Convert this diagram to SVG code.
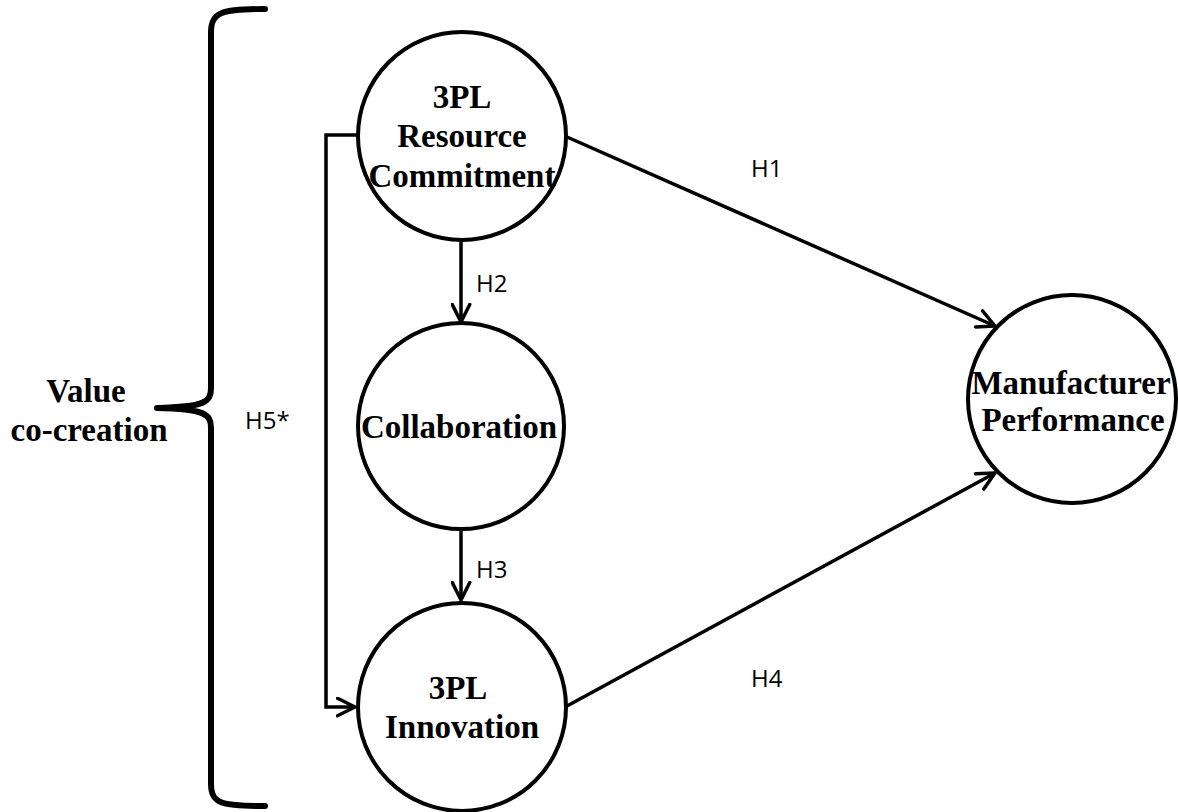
<svg xmlns="http://www.w3.org/2000/svg" width="1178" height="812" viewBox="0 0 1178 812">
  <style>
    .node { fill: #ffffff; stroke: #000000; stroke-width: 4; }
    .label { font-family: "Liberation Serif", "Times New Roman", serif; font-weight: bold; font-size: 33px; fill: #000000; text-anchor: middle; }
    .hyp { font-family: "Open Sans", "Liberation Sans", Arial, sans-serif; font-size: 24px; fill: #000000; }
    .edge { fill: none; stroke: #000000; stroke-width: 3.5; }
    .brace { fill: none; stroke: #000000; stroke-width: 6; stroke-linecap: round; }
  </style>
  <defs>
    <marker id="arrow" viewBox="0 0 12 12" refX="11" refY="6" markerWidth="6" markerHeight="6" orient="auto" markerUnits="strokeWidth">
      <path d="M1,1 L11,6 L1,11" fill="none" stroke="#000000" stroke-width="2" stroke-linecap="round" stroke-linejoin="round"/>
    </marker>
  </defs>
  <rect width="1178" height="812" fill="#ffffff"/>

  <!-- curly brace grouping the value co-creation constructs -->
  <g id="value-cocreation">
    <path class="brace" d="M265,9 C222,9 211,12 211,32 L211,388 C211,402 205,407 157,408 M157,408 C205,409 211,414 211,428 L211,784 C211,804 222,806 265,806"/>
    <text class="label" x="86" y="402">Value</text>
    <text class="label" x="89" y="441">co-creation</text>
  </g>

  <!-- connectors -->
  <g id="connectors">
    <path class="edge" d="M357,135 L326,135 L326,707 L355,707" marker-end="url(#arrow)"/>
    <path class="edge" d="M461,241 L461,322" marker-end="url(#arrow)"/>
    <path class="edge" d="M461,529 L461,600" marker-end="url(#arrow)"/>
    <path class="edge" d="M567,137 L995,326" marker-end="url(#arrow)"/>
    <path class="edge" d="M567,706 L995,473" marker-end="url(#arrow)"/>
    <text class="hyp" x="751" y="177">H1</text>
    <text class="hyp" x="476" y="292">H2</text>
    <text class="hyp" x="476" y="578">H3</text>
    <text class="hyp" x="751" y="687">H4</text>
    <text class="hyp" x="245" y="429">H5*</text>
  </g>

  <g id="resource-commitment">
    <circle class="node" cx="462" cy="136" r="104"/>
    <text class="label" x="462" y="108">3PL</text>
    <text class="label" x="462" y="147">Resource</text>
    <text class="label" x="462" y="187">Commitment</text>
  </g>

  <g id="collaboration">
    <circle class="node" cx="461" cy="426" r="103"/>
    <text class="label" x="459" y="438">Collaboration</text>
  </g>

  <g id="innovation">
    <circle class="node" cx="462" cy="707" r="104"/>
    <text class="label" x="458" y="699">3PL</text>
    <text class="label" x="462" y="738">Innovation</text>
  </g>

  <g id="manufacturer-performance">
    <circle class="node" cx="1072" cy="399" r="104"/>
    <text class="label" x="1071" y="394">Manufacturer</text>
    <text class="label" x="1073" y="431">Performance</text>
  </g>
</svg>
